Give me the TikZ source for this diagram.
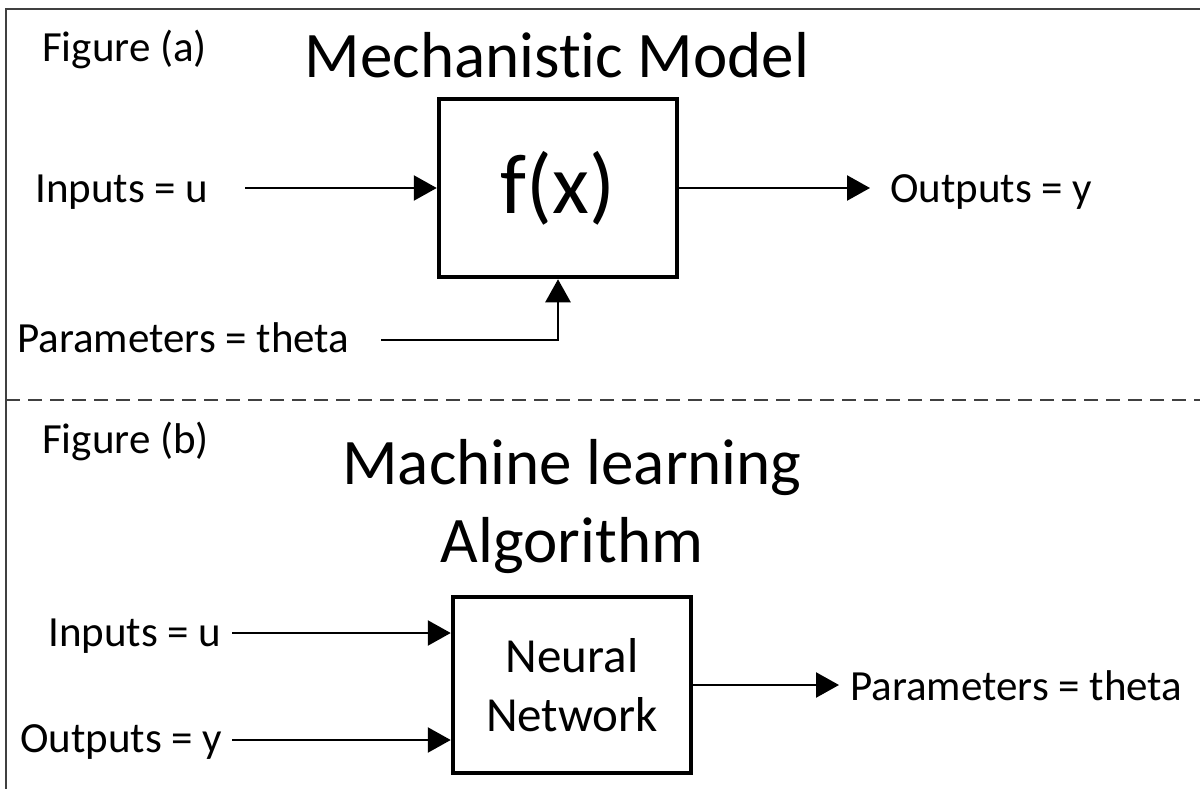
\documentclass[tikz,border=0pt]{standalone}
\usepackage{fontspec}
\setmainfont[Ligatures={NoCommon}]{Carlito}
\usetikzlibrary{arrows.meta,positioning}

\begin{document}
\begin{tikzpicture}
        [x=1pt, y=-1pt,
        outline/.style={draw=black!75, line width=2pt},
        divider/.style={draw=black!75, line width=2pt, dash pattern=on 14pt off 8pt},
        block/.style={draw=black, line width=4.5pt, inner sep=0pt, align=center},
        arr/.style={draw=black, line width=2.5pt, -{Triangle[length=23pt,width=25pt]}},
        lbl/.style={font=\fontsize{43}{50}\selectfont, inner sep=0pt, anchor=base west},
        heading/.style={font=\fontsize{65}{80}\selectfont, inner sep=0pt, anchor=base}]
%
\useasboundingbox (0,0) rectangle (1200,789);
%%
%% Frame and divider
%%
\draw[outline] (1200,9) -- (6,9) -- (6,789);
\draw[divider] (6,400) -- (1200,400);
%%
%%
%% Figure (a)
%%
\node[lbl] (figA) at (42,62) {Figure (a)};
\node[heading] (mechTitle) at (557,78) {Mechanistic Model};
\node[block, minimum width=238pt, minimum height=178pt,
      font=\fontsize{85}{90}\selectfont] (fbox) at (558,188) {f(x)};
\node[lbl] (inA) at (35,202) {Inputs = u};
\node[lbl] (outA) at (890,202) {Outputs = y};
\node[lbl] (parA) at (17,352) {Parameters = theta};
%%
\coordinate (inAstart) at (245,188);
\coordinate (outAtip) at (870,188);
\coordinate (parAstart) at (381,340);
%%
\draw[arr] (inAstart) -- (fbox.west);
\draw[arr] (fbox.east) -- (outAtip);
\draw[arr] (parAstart) -| (fbox.south);
%%
%%
%% Figure (b)
%%
\node[lbl] (figB) at (42,453) {Figure (b)};
\node[heading] (mlTitle) at (572,484) {Machine learning};
\node[heading] (algTitle) at (572,562) {Algorithm};
\node[block, minimum width=238pt, minimum height=176pt,
      font=\fontsize{49}{59}\selectfont] (nnbox) at (572,685) {Neural\\Network};
\node[lbl] (inB) at (48,646) {Inputs = u};
\node[lbl] (outB) at (20,752) {Outputs = y};
\node[lbl] (parB) at (850,700) {Parameters = theta};
%%
\coordinate (inBstart) at (232,633);
\coordinate (outBstart) at (232,740);
\coordinate (parBtip) at (839,685);
%%
\draw[arr] (inBstart) -- (inBstart -| nnbox.west);
\draw[arr] (outBstart) -- (outBstart -| nnbox.west);
\draw[arr] (nnbox.east) -- (parBtip);
%%
\end{tikzpicture}
\end{document}
